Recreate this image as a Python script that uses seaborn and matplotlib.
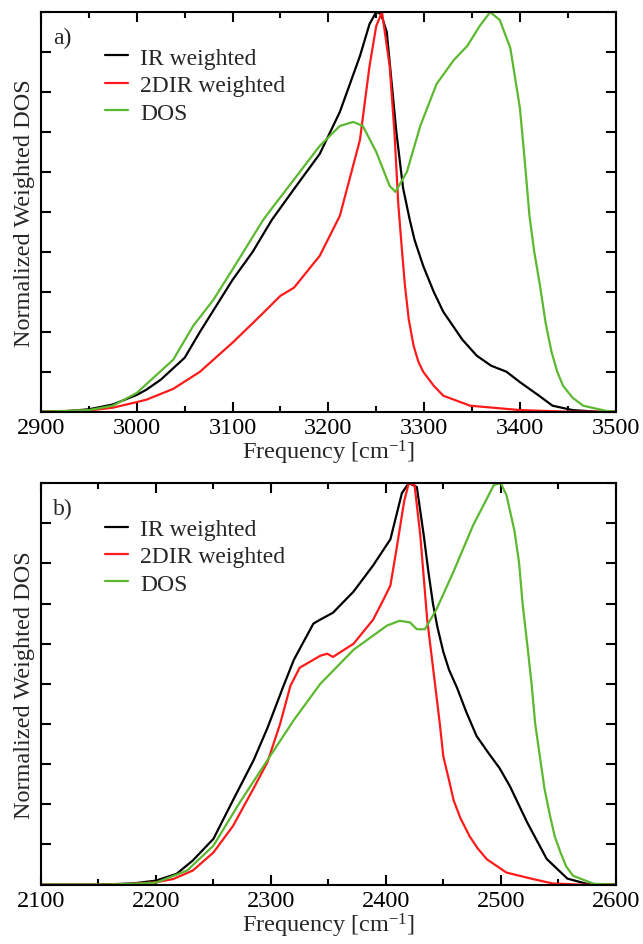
import matplotlib
matplotlib.use("Agg")
import matplotlib.pyplot as plt
from matplotlib.ticker import MultipleLocator, NullFormatter
import seaborn as sns
import pandas as pd

# panel a) data (frequency in cm^-1, normalized intensity)
freq_ir_a = [2900, 2925, 2950, 2975, 3000, 3010, 3025, 3050, 3066, 3083, 3100, 3121, 3141, 3165,
             3191, 3212, 3233, 3243, 3250, 3255, 3261, 3271, 3278, 3285, 3290, 3299, 3310, 3320,
             3340, 3355, 3370, 3386, 3400, 3420, 3434, 3455, 3480, 3500]
ir_a = [0.0, 0.001, 0.006, 0.018, 0.042, 0.055, 0.08, 0.135, 0.2, 0.265, 0.33, 0.40, 0.48, 0.56,
        0.645, 0.75, 0.89, 0.97, 1.0, 0.995, 0.95, 0.70, 0.56, 0.48, 0.43, 0.365, 0.30, 0.25,
        0.18, 0.14, 0.115, 0.10, 0.074, 0.04, 0.015, 0.004, 0.0, 0.0]

freq_2d_a = [2900, 2950, 2975, 3000, 3010, 3038, 3066, 3080, 3101, 3129, 3150, 3164, 3191, 3212,
             3233, 3243, 3250, 3256, 3264, 3269, 3273, 3277, 3280, 3284, 3289, 3294, 3299, 3310,
             3320, 3348, 3400, 3450, 3500]
twod_a = [0.0, 0.003, 0.01, 0.024, 0.03, 0.057, 0.10, 0.13, 0.175, 0.24, 0.29, 0.31, 0.39, 0.49,
          0.68, 0.865, 0.965, 1.0, 0.865, 0.70, 0.52, 0.40, 0.315, 0.23, 0.165, 0.125, 0.10, 0.065,
          0.04, 0.015, 0.004, 0.0, 0.0]

freq_dos_a = [2900, 2950, 2975, 3000, 3038, 3059, 3080, 3101, 3132, 3143, 3191, 3212, 3226, 3236,
              3250, 3264, 3270, 3282, 3296, 3313, 3331, 3345, 3358, 3369, 3379, 3390, 3400, 3405,
              3410, 3415, 3421, 3427, 3433, 3439, 3445, 3455, 3466, 3490, 3500]
dos_a = [0.0, 0.004, 0.015, 0.047, 0.13, 0.215, 0.28, 0.36, 0.48, 0.515, 0.665, 0.715, 0.725, 0.715,
         0.65, 0.565, 0.55, 0.60, 0.715, 0.82, 0.88, 0.915, 0.965, 1.0, 0.98, 0.91, 0.76, 0.63,
         0.49, 0.40, 0.315, 0.22, 0.15, 0.10, 0.065, 0.035, 0.015, 0.002, 0.0]

# panel b) data
freq_ir_b = [2100, 2150, 2180, 2200, 2218, 2232, 2250, 2267, 2285, 2297, 2311, 2320, 2337, 2343,
             2354, 2372, 2389, 2404, 2414, 2420, 2427, 2433, 2437, 2441, 2445, 2450, 2455, 2462,
             2470, 2479, 2490, 2499, 2508, 2523, 2540, 2558, 2575, 2600]
ir_b = [0.0, 0.0, 0.003, 0.01, 0.027, 0.06, 0.114, 0.21, 0.31, 0.39, 0.495, 0.56, 0.65, 0.66,
        0.677, 0.73, 0.795, 0.86, 0.975, 1.0, 0.99, 0.87, 0.78, 0.70, 0.64, 0.58, 0.535, 0.49,
        0.43, 0.37, 0.325, 0.29, 0.245, 0.155, 0.064, 0.015, 0.002, 0.0]

freq_2d_b = [2100, 2150, 2180, 2200, 2215, 2232, 2250, 2267, 2285, 2297, 2308, 2317, 2325, 2337,
             2343, 2349, 2354, 2372, 2389, 2398, 2404, 2409, 2416, 2420, 2425, 2430, 2436, 2443,
             2447, 2450, 2455, 2459, 2465, 2473, 2480, 2488, 2505, 2528, 2545, 2570, 2600]
twod_b = [0.0, 0.0, 0.002, 0.006, 0.014, 0.035, 0.08, 0.146, 0.24, 0.305, 0.40, 0.495, 0.54, 0.56,
          0.57, 0.575, 0.567, 0.60, 0.66, 0.71, 0.745, 0.83, 0.955, 1.0, 0.995, 0.87, 0.66, 0.495,
          0.40, 0.32, 0.26, 0.21, 0.165, 0.12, 0.09, 0.063, 0.03, 0.014, 0.003, 0.0, 0.0]

freq_dos_b = [2100, 2150, 2180, 2200, 2227, 2250, 2273, 2297, 2320, 2343, 2372, 2401, 2412, 2421,
              2427, 2434, 2444, 2459, 2476, 2494, 2500, 2505, 2512, 2516, 2519, 2523, 2527, 2530,
              2534, 2538, 2543, 2547, 2552, 2557, 2563, 2581, 2600]
dos_b = [0.0, 0.0, 0.002, 0.005, 0.035, 0.097, 0.205, 0.31, 0.41, 0.50, 0.585, 0.645, 0.657, 0.653,
         0.636, 0.636, 0.685, 0.78, 0.895, 0.995, 1.0, 0.97, 0.88, 0.80, 0.70, 0.60, 0.495, 0.40,
         0.32, 0.24, 0.17, 0.12, 0.08, 0.045, 0.022, 0.002, 0.0]

labels = ["IR weighted", "2DIR weighted", "DOS"]
colors = ["black", "#ff1a1a", "#5cb82f"]

sns.set_style("ticks")
plt.rcParams["font.family"] = ["Liberation Serif", "DejaVu Serif"]
plt.rcParams["mathtext.fontset"] = "custom"
plt.rcParams["mathtext.rm"] = "Liberation Serif"
plt.rcParams["mathtext.default"] = "regular"

fig = plt.figure(figsize=(6.43, 9.45), dpi=100)
ax_a = fig.add_axes([0.0638, 0.5633, 0.8937, 0.4229])
ax_b = fig.add_axes([0.0638, 0.0628, 0.8937, 0.4250])

panels = [
    (ax_a, "a)", [(freq_ir_a, ir_a), (freq_2d_a, twod_a), (freq_dos_a, dos_a)], (2900, 3500)),
    (ax_b, "b)", [(freq_ir_b, ir_b), (freq_2d_b, twod_b), (freq_dos_b, dos_b)], (2100, 2600)),
]

for ax, tag, series, xlim in panels:
    for (f, v), lab, c in zip(series, labels, colors):
        df = pd.DataFrame({"freq": f, "val": v})
        sns.lineplot(data=df, x="freq", y="val", ax=ax, color=c, lw=1.6, label=lab)
    ax.set_xlim(*xlim)
    ax.set_ylim(0, 1.0)
    ax.xaxis.set_major_locator(MultipleLocator(100))
    ax.xaxis.set_minor_locator(MultipleLocator(50))
    ax.yaxis.set_major_locator(MultipleLocator(0.1))
    ax.yaxis.set_major_formatter(NullFormatter())
    ax.tick_params(which="both", direction="in", top=True, right=True, width=1.5, colors="black")
    ax.tick_params(which="major", length=7, labelsize=17.5, pad=4)
    ax.tick_params(which="minor", length=4)
    for sp in ax.spines.values():
        sp.set_visible(True)
        sp.set_linewidth(1.5)
        sp.set_color("black")
    ax.set_xlabel("Frequency [cm$^{-1}$]", fontsize=17.5, labelpad=0)
    ax.set_ylabel("Normalized Weighted DOS", fontsize=17.5, labelpad=0)
    ax.text(0.021, 0.937, tag, transform=ax.transAxes, fontsize=17, va="center", ha="left")
    ax.legend(loc="upper left", bbox_to_anchor=(0.111, 0.912), frameon=False, fontsize=17,
              handlelength=1.0, handletextpad=0.5, labelspacing=0.25, borderpad=0, borderaxespad=0)

fig.savefig("out.png", dpi=100)
